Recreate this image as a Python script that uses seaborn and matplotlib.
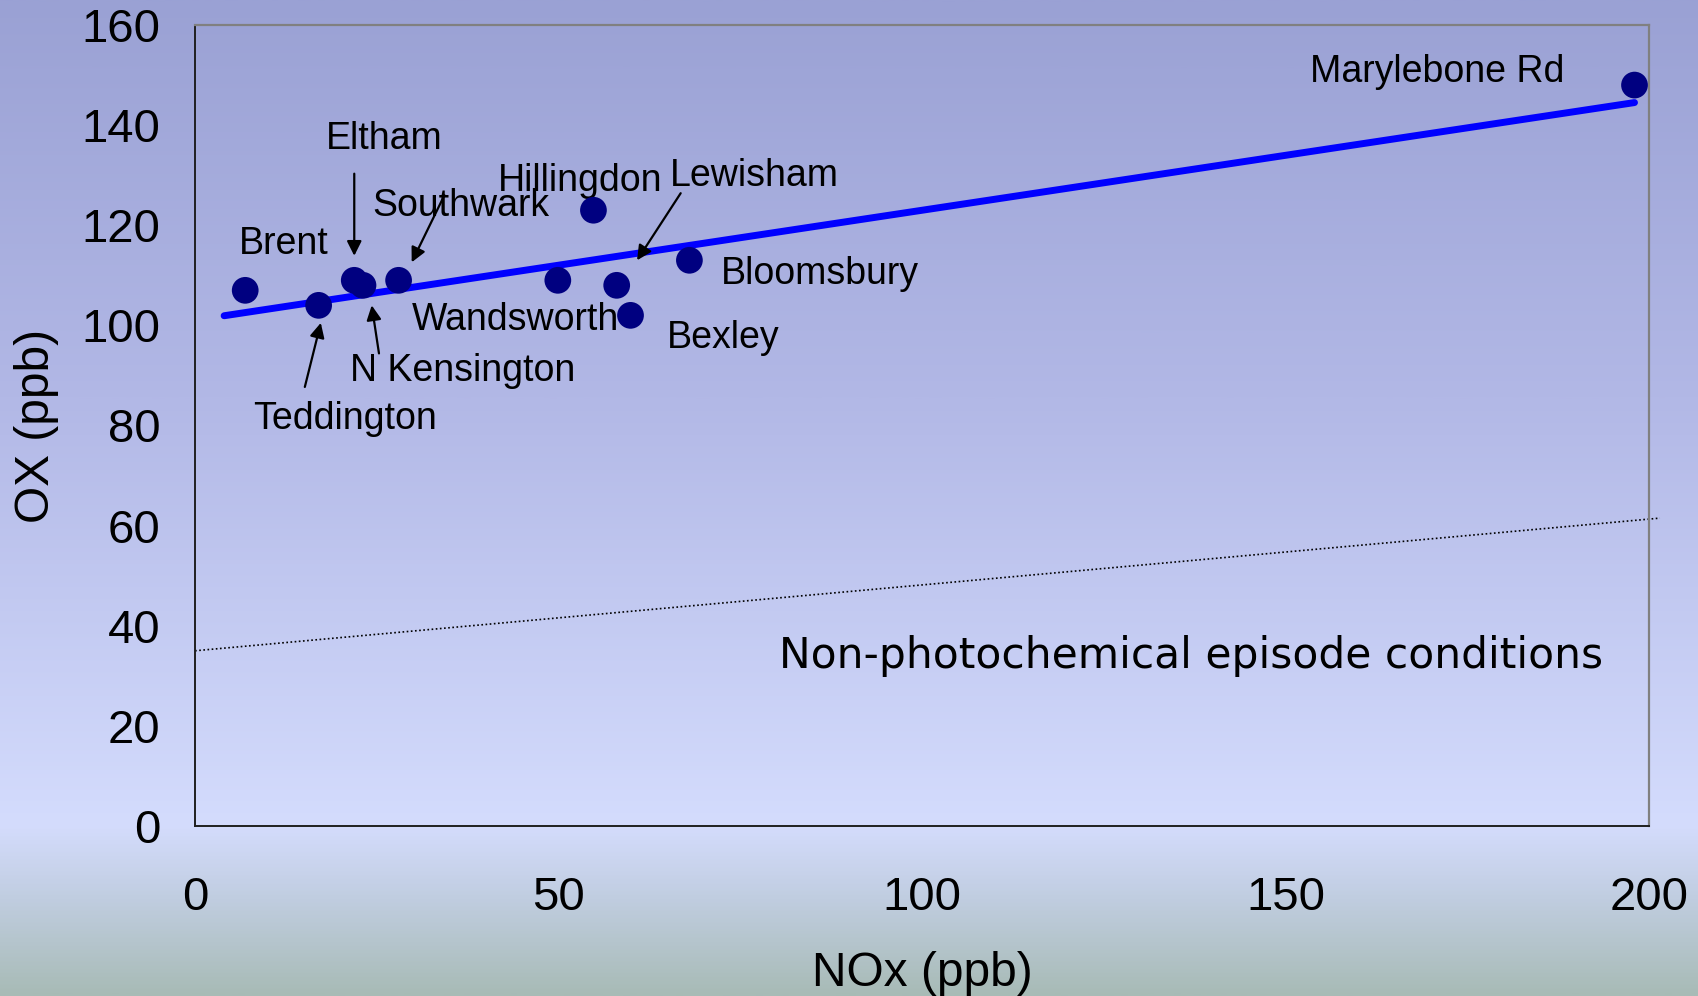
import numpy as np
import pandas as pd
import matplotlib.pyplot as plt
import seaborn as sns
from matplotlib.colors import LinearSegmentedColormap

# Data
sites = ["Brent", "Teddington", "Eltham", "N Kensington", "Southwark", "Wandsworth",
         "Hillingdon", "Lewisham", "Bexley", "Bloomsbury", "Marylebone Rd"]
nox = [6.9, 17.0, 21.9, 23.1, 28.0, 49.9, 54.8, 58.0, 59.9, 68.0, 198.0]
ox = [107, 104, 109, 108, 109, 109, 123, 108, 102, 113, 148]

# span of the fitted trend line
fit_nox_range = [4, 198]

# background (non-photochemical) line
base_nox = [0, 201.5]
base_ox = [35, 61.5]

x_ticks = [0, 50, 100, 150, 200]
y_ticks = [0, 20, 40, 60, 80, 100, 120, 140, 160]

df = pd.DataFrame({"site": sites, "NOx": nox, "OX": ox})

# least-squares trend
slope, intercept = np.polyfit(df["NOx"], df["OX"], 1)
fit_x = np.array(fit_nox_range, dtype=float)
fit_y = intercept + slope * fit_x

# label placement (data coords) and optional arrow (tail, head)
label_pos = {
    "Brent": (12.2, 116.2, None),
    "Teddington": (20.6, 81.2, ((15.1, 87.7), (17.3, 100.5))),
    "Eltham": (26.0, 137.2, ((21.9, 130.3), (21.9, 113.9))),
    "N Kensington": (36.8, 90.9, ((25.3, 94.4), (24.3, 104.0))),
    "Southwark": (36.5, 123.8, ((34.3, 126.0), (29.8, 112.6))),
    "Wandsworth": (44.1, 101.1, None),
    "Hillingdon": (53.0, 128.9, None),
    "Lewisham": (77.0, 129.9, ((66.8, 126.4), (60.8, 113.0))),
    "Bexley": (72.7, 97.4, None),
    "Bloomsbury": (86.0, 110.2, None),
    "Marylebone Rd": (170.9, 150.6, None),
}

sns.set_theme(style="white")
plt.rcParams["font.family"] = ["Liberation Sans", "DejaVu Sans"]

fig = plt.figure(figsize=(16.99, 9.96), dpi=100)

# gradient background
bg = fig.add_axes([0, 0, 1, 1], zorder=-10)
cmap = LinearSegmentedColormap.from_list(
    "bg", [(0.0, "#9aa1d4"), (0.40, "#b2b8e6"), (0.83, "#d4dcfd"), (0.89, "#c4d0e6"), (1.0, "#a8bbb6")])
bg.imshow(np.linspace(0, 1, 512).reshape(-1, 1), aspect="auto", cmap=cmap,
          extent=[0, 1, 1, 0])
bg.set_axis_off()

ax = fig.add_axes([0.1148, 0.1707, 0.8558, 0.8042])
ax.patch.set_alpha(0)

sns.lineplot(x=fit_x, y=fit_y, ax=ax, color="#0000ff", lw=5, solid_capstyle="round")
sns.scatterplot(data=df, x="NOx", y="OX", ax=ax, color="#000080", s=370,
                edgecolor="none", zorder=5, clip_on=False)
sns.lineplot(x=base_nox, y=base_ox, ax=ax, color="black", lw=1.2,
             linestyle=(0, (1, 1.5)), clip_on=False)

for name, (tx, ty, arrow) in label_pos.items():
    ax.text(tx, ty, name, ha="center", va="center", fontsize=27, color="black")
    if arrow is not None:
        ax.annotate("", xy=arrow[1], xytext=arrow[0],
                    arrowprops=dict(arrowstyle="-|>", color="black", lw=1.6,
                                    mutation_scale=22, shrinkA=0, shrinkB=0))

ax.text(137, 34, "Non-photochemical episode conditions", ha="center", va="center",
        fontsize=30.5, color="black", family="DejaVu Sans")

ax.set_xlim(0, 200)
ax.set_ylim(0, 160)
ax.set_xticks(x_ticks)
ax.set_yticks(y_ticks)
ax.tick_params(axis="both", direction="out", length=11, width=1, color="#303030",
               labelsize=34, labelcolor="black")
ax.tick_params(axis="x", pad=25)
ax.tick_params(axis="y", pad=14)
ax.set_xlabel("NOx (ppb)", fontsize=34.5, labelpad=22, color="black")
ax.set_ylabel("OX (ppb)", fontsize=34.5, labelpad=16, color="black")

for side in ["left", "bottom"]:
    ax.spines[side].set_color("#202020")
    ax.spines[side].set_linewidth(1.4)
for side in ["top", "right"]:
    ax.spines[side].set_color("#808080")
    ax.spines[side].set_linewidth(1.6)
    ax.spines[side].set_visible(True)
ax.grid(False)

fig.savefig("out.png", dpi=100)
